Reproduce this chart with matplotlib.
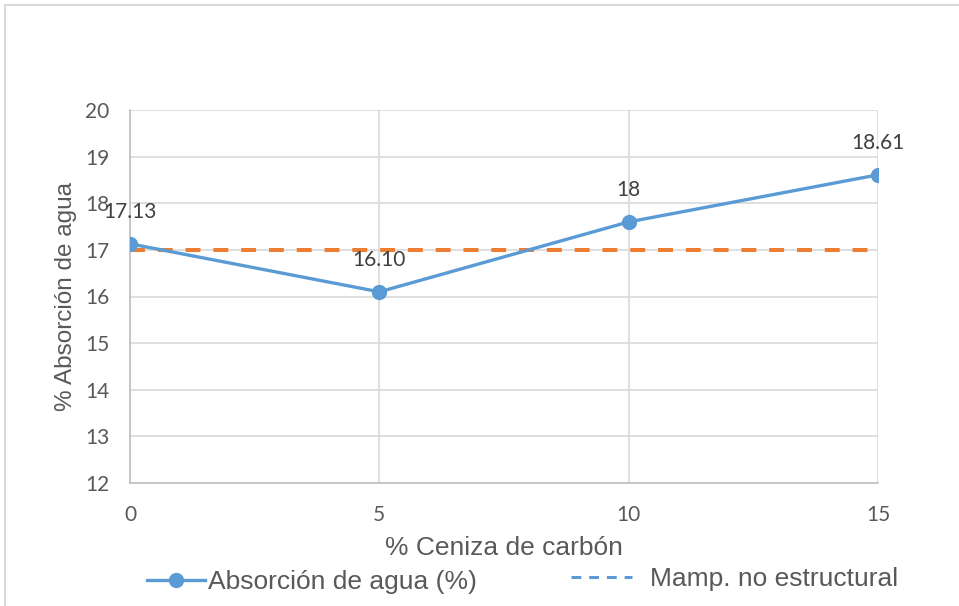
import matplotlib.pyplot as plt
from matplotlib.lines import Line2D
from matplotlib.patches import Rectangle

# data
ceniza = [0, 5, 10, 15]
absorcion = [17.13, 16.10, 17.6, 18.61]
decimales = [2, 2, 0, 2]          # formato de cada etiqueta
limite = [17, 17, 17, 17]         # mampostería no estructural
y_ticks = [12, 13, 14, 15, 16, 17, 18, 19, 20]

azul = '#5b9bd5'
naranja = '#ed7d31'
gris_txt = '#595959'
gris_grid = '#d9d9d9'

fig = plt.figure(figsize=(9.59, 6.06), dpi=100)
ax = fig.add_axes([130 / 959, 1 - 483 / 606, 748 / 959, 373 / 606])

# marco del grafico
fig.patches.append(Rectangle((5 / 959, -0.1), 1.2, 1 - 5 / 606 + 0.1,
                             transform=fig.transFigure, fill=False,
                             edgecolor='#d9d9d9', linewidth=1.5))

ax.plot(ceniza, limite, color=naranja, linewidth=2.9, dashes=(3.7, 3.2), zorder=3)
ax.plot(ceniza, absorcion, color=azul, linewidth=2.4, marker='o',
        markersize=10, zorder=4)

for i, (x, y) in enumerate(zip(ceniza, absorcion)):
    ax.annotate(f'{y:.{decimales[i]}f}', (x, y), xytext=(0, 23),
                textcoords='offset points', ha='center', va='center',
                fontsize=15, family='Lato', color='#404040', zorder=5,
                annotation_clip=False)

ax.set_xlim(0, 15)
ax.set_ylim(12, 20)
ax.set_xticks(ceniza)
ax.set_yticks(y_ticks)
ax.grid(True, color=gris_grid, linewidth=1.2)
ax.set_axisbelow(True)
for s in ['top', 'right']:
    ax.spines[s].set_visible(False)
for s in ['left', 'bottom']:
    ax.spines[s].set_color('#bfbfbf')
    ax.spines[s].set_linewidth(1.2)
ax.tick_params(length=0, labelsize=15, colors=gris_txt)
ax.tick_params(axis='y', pad=15)
ax.tick_params(axis='x', pad=16)
for lbl in ax.get_xticklabels() + ax.get_yticklabels():
    lbl.set_family('Lato')

ax.set_xlabel('% Ceniza de carbón', fontsize=19, family='Liberation Sans',
              color=gris_txt, labelpad=8)
ax.set_ylabel('% Absorción de agua', fontsize=17.5, family='Liberation Sans',
              color=gris_txt, labelpad=6)

# leyenda inferior, dos entradas
prop = {'family': 'Liberation Sans', 'size': 19}
h1 = Line2D([], [], color=azul, linewidth=2.4, marker='o', markersize=10)
h2 = Line2D([], [], color=azul, linewidth=2.2, dashes=(3.2, 2.6))
leg1 = fig.legend([h1], ['Absorción de agua (%)'], loc='center left',
                  bbox_to_anchor=(147 / 959, 1 - 582 / 606), frameon=False,
                  borderpad=0, borderaxespad=0, handlelength=2.2,
                  handletextpad=0.12, prop=prop, labelcolor=gris_txt)
leg2 = fig.legend([h2], ['Mamp. no estructural'], loc='center left',
                  bbox_to_anchor=(571 / 959, 1 - 579 / 606), frameon=False,
                  borderpad=0, borderaxespad=0, handlelength=2.3,
                  handletextpad=0.7, prop=prop, labelcolor=gris_txt)

fig.savefig('out.png', dpi=100)
